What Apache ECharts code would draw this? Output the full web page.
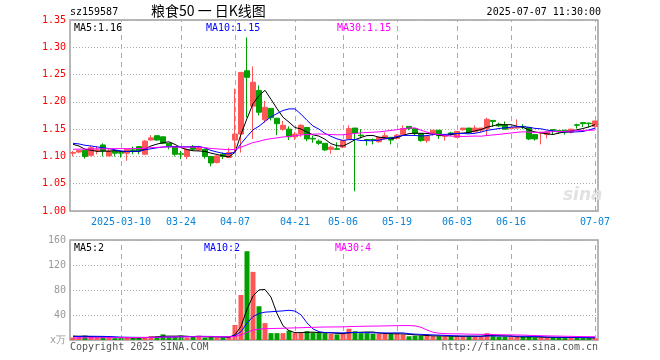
<!DOCTYPE html>
<html><head><meta charset="utf-8">
<script src="https://cdn.jsdelivr.net/npm/echarts@6/dist/echarts.min.js"></script>
<style>html,body{margin:0;padding:0;background:#fff}#c{width:660px;height:360px}</style>
</head><body><div id="c"></div>
<script>
const dates = ['2025-02-26','2025-02-27','2025-02-28','2025-03-03','2025-03-04','2025-03-05','2025-03-06','2025-03-07',
'2025-03-10','2025-03-11','2025-03-12','2025-03-13','2025-03-14','2025-03-17','2025-03-18','2025-03-19','2025-03-20','2025-03-21',
'2025-03-24','2025-03-25','2025-03-26','2025-03-27','2025-03-28','2025-03-31','2025-04-01','2025-04-02','2025-04-03',
'2025-04-07','2025-04-08','2025-04-09','2025-04-10','2025-04-11','2025-04-14','2025-04-15','2025-04-16','2025-04-17','2025-04-18',
'2025-04-21','2025-04-22','2025-04-23','2025-04-24','2025-04-25','2025-04-28','2025-04-29','2025-04-30',
'2025-05-06','2025-05-07','2025-05-08','2025-05-09','2025-05-12','2025-05-13','2025-05-14','2025-05-15','2025-05-16',
'2025-05-19','2025-05-20','2025-05-21','2025-05-22','2025-05-23','2025-05-26','2025-05-27','2025-05-28','2025-05-29','2025-05-30',
'2025-06-03','2025-06-04','2025-06-05','2025-06-06','2025-06-09','2025-06-10','2025-06-11','2025-06-12','2025-06-13',
'2025-06-16','2025-06-17','2025-06-18','2025-06-19','2025-06-23','2025-06-24','2025-06-25','2025-06-26','2025-06-27',
'2025-06-30','2025-07-01','2025-07-02','2025-07-03','2025-07-04','2025-07-07'];
const opens  = [1.106,1.108,1.111,1.102,1.111,1.121,1.101,1.110,1.107,1.106,1.112,1.118,1.104,1.130,1.138,1.136,1.124,1.118,1.105,1.100,1.118,1.112,1.113,1.100,1.089,1.104,1.098,
1.130,1.141,1.257,1.192,1.221,1.167,1.188,1.170,1.150,1.150,1.136,1.141,1.153,1.133,1.128,1.124,1.113,1.114,
1.117,1.132,1.152,1.139,1.131,1.131,1.127,1.132,1.135,1.133,1.140,1.155,1.151,1.142,1.129,1.141,1.148,1.137,1.143,
1.135,1.149,1.152,1.145,1.148,1.151,1.166,1.159,1.158,1.151,1.152,1.155,1.153,1.140,1.143,1.140,1.149,1.147,1.148,1.144,1.158,1.162,1.161,1.155];
const closes = [1.107,1.111,1.100,1.116,1.112,1.110,1.110,1.106,1.106,1.113,1.111,1.110,1.128,1.134,1.130,1.124,1.118,1.104,1.104,1.113,1.113,1.116,1.100,1.088,1.101,1.100,1.107,
1.141,1.254,1.245,1.236,1.181,1.190,1.171,1.160,1.157,1.136,1.141,1.157,1.132,1.132,1.124,1.112,1.117,1.113,
1.129,1.151,1.143,1.138,1.130,1.130,1.135,1.138,1.130,1.139,1.151,1.151,1.142,1.129,1.137,1.148,1.138,1.138,1.140,
1.146,1.152,1.144,1.152,1.152,1.168,1.164,1.156,1.150,1.153,1.153,1.154,1.132,1.132,1.144,1.145,1.148,1.145,1.144,1.150,1.157,1.160,1.160,1.165];
const highs  = [1.110,1.112,1.112,1.119,1.119,1.124,1.115,1.110,1.110,1.113,1.118,1.118,1.130,1.139,1.138,1.136,1.124,1.119,1.110,1.114,1.121,1.118,1.114,1.100,1.102,1.107,1.116,
1.224,1.254,1.318,1.265,1.230,1.202,1.188,1.170,1.165,1.155,1.145,1.159,1.153,1.138,1.131,1.124,1.120,1.126,
1.129,1.157,1.152,1.150,1.132,1.133,1.135,1.144,1.135,1.141,1.157,1.155,1.151,1.142,1.137,1.148,1.148,1.139,1.145,
1.146,1.152,1.152,1.157,1.152,1.171,1.166,1.162,1.164,1.154,1.168,1.159,1.153,1.140,1.144,1.145,1.149,1.147,1.148,1.150,1.160,1.162,1.162,1.165];
const lows   = [1.100,1.106,1.096,1.100,1.104,1.100,1.100,1.100,1.098,1.092,1.104,1.104,1.103,1.129,1.129,1.123,1.113,1.100,1.095,1.095,1.110,1.110,1.096,1.082,1.087,1.095,1.097,
1.107,1.107,1.171,1.132,1.175,1.162,1.166,1.139,1.147,1.130,1.130,1.136,1.128,1.125,1.121,1.110,1.105,1.112,
1.115,1.132,1.036,1.133,1.120,1.122,1.125,1.132,1.122,1.131,1.138,1.148,1.138,1.127,1.125,1.138,1.132,1.129,1.138,
1.134,1.147,1.142,1.145,1.144,1.138,1.154,1.154,1.150,1.150,1.151,1.150,1.130,1.129,1.122,1.133,1.141,1.142,1.140,1.142,1.151,1.154,1.153,1.153];
const volumes = [4,5,7,5,4,5,4,3,3,4,3,4,5,6,6,9,5,5,7,4,5,7,4,5,4,4,5,
24,72,142,109,54,27,11,11,11,15,11,11,14,12,11,11,10,9,
10,18,14,11,11,10,10,10,10,10,9,6,7,7,7,6,6,6,6,
6,6,6,6,6,11,6,5,5,5,5,5,5,4,4,4,4,4,4,4,4,3,3,3];
// closes/volumes before the first visible day, used only for the moving averages
const prevCloses = [1.100,1.102,1.105,1.104,1.108,1.106,1.103,1.107,1.110,1.108,1.105,1.109,1.112,1.110,1.108,1.111,1.113,1.110,1.109,1.111,
1.122,1.125,1.128,1.130,1.124,1.127,1.129,1.125,1.123];
const prevVolumes = [2,2,2,2,2,2,2,2,2,2,2,2,2,2,2,2,2,2,2,2,3,4,5,5,6,7,7,8,6];
const tickDates  = ['2025-03-10','2025-03-24','2025-04-07','2025-04-21','2025-05-06','2025-05-19','2025-06-03','2025-06-16','2025-07-07'];
const tickLabels = ['2025-03-10','03-24','04-07','04-21','05-06','05-19','06-03','06-16','07-07'];
const priceLegend = ['MA5:1.16','MA10:1.15','MA30:1.15'];
const volLegend = ['MA5:2','MA10:2','MA30:4'];

const RED = '#ff5656', GREEN = '#00a000';
const MONO = '"DejaVu Sans Mono", monospace';
function ma(arr, prev, n) {
  const all = prev.concat(arr);
  return arr.map((_, i) => {
    const end = prev.length + i; let s = 0;
    for (let k = end - n + 1; k <= end; k++) s += all[k];
    return +(s / n).toFixed(4);
  });
}
const candle = dates.map((d, i) => [opens[i], closes[i], lows[i], highs[i]]);
const volBars = volumes.map((v, i) => ({ value: v, itemStyle: { color: closes[i] >= opens[i] ? RED : GREEN } }));
const vlines = tickDates.map(d => ({ xAxis: d }));
const mk = { silent: true, symbol: 'none', label: { show: false }, lineStyle: { color: '#aaa', type: [5, 4], width: 1 }, data: vlines, animation: false };
const lineS = (name, data, color, xi) => ({ name, type: 'line', data, xAxisIndex: xi, yAxisIndex: xi, showSymbol: false, symbol: 'none',
  lineStyle: { color, width: 1 }, itemStyle: { color }, silent: true, z: 5 });

const chart = echarts.init(document.getElementById('c'), null, { renderer: 'canvas' });
const txt = (x, y, t, color, extra) => Object.assign({ type: 'text', left: x, top: y, style: { text: t, fill: color, font: '10px ' + MONO } }, extra || {});
chart.setOption({
  animation: false,
  backgroundColor: '#fff',
  grid: [
    { left: 70, top: 20, width: 528, height: 191, show: true, borderColor: '#a0a0a0', borderWidth: 1.5, backgroundColor: 'transparent' },
    { left: 70, top: 240, width: 528, height: 100, show: true, borderColor: '#a0a0a0', borderWidth: 1.5, backgroundColor: 'transparent' }
  ],
  xAxis: [
    { type: 'category', data: dates, gridIndex: 0, boundaryGap: true, axisLine: { show: false }, axisTick: { show: false },
      splitLine: { show: false },
      axisLabel: { interval: (i, v) => tickDates.includes(v), formatter: v => tickLabels[tickDates.indexOf(v)] || '',
        color: '#0a84d6', fontFamily: MONO, fontSize: 10, margin: 6 } },
    { type: 'category', data: dates, gridIndex: 1, boundaryGap: true, axisLine: { show: false }, axisTick: { show: false },
      axisLabel: { show: false }, splitLine: { show: false } }
  ],
  yAxis: [
    { type: 'value', gridIndex: 0, min: 1.0, max: 1.35, interval: 0.05, axisLine: { show: false }, axisTick: { show: false },
      axisLabel: { color: '#ff0000', fontFamily: MONO, fontSize: 10, margin: 4, formatter: v => v.toFixed(2) },
      splitLine: { show: true, lineStyle: { color: '#aaa', type: [1, 2], width: 1 } } },
    { type: 'value', gridIndex: 1, min: 0, max: 160, interval: 40, axisLine: { show: false }, axisTick: { show: false },
      axisLabel: { color: '#999', fontFamily: MONO, fontSize: 10, margin: 4, formatter: v => v === 0 ? 'x万' : String(v) },
      splitLine: { show: true, lineStyle: { color: '#aaa', type: [1, 2], width: 1 } } }
  ],
  series: [
    { type: 'line', data: [], xAxisIndex: 0, yAxisIndex: 0, markLine: mk, z: 1 },
    { type: 'line', data: [], xAxisIndex: 1, yAxisIndex: 1, markLine: mk, z: 1 },
    { type: 'candlestick', data: candle, xAxisIndex: 0, yAxisIndex: 0, barWidth: 5,
      itemStyle: { color: RED, color0: GREEN, borderColor: RED, borderColor0: GREEN, borderWidth: 1 }, z: 3 },
    lineS('MA5', ma(closes, prevCloses, 5), '#000', 0),
    lineS('MA10', ma(closes, prevCloses, 10), '#0000ff', 0),
    lineS('MA30', ma(closes, prevCloses, 30), '#ff00ff', 0),
    { type: 'bar', data: volBars, xAxisIndex: 1, yAxisIndex: 1, barWidth: 5, z: 3 },
    lineS('VMA5', ma(volumes, prevVolumes, 5), '#000', 1),
    lineS('VMA10', ma(volumes, prevVolumes, 10), '#0000ff', 1),
    lineS('VMA30', ma(volumes, prevVolumes, 30), '#ff00ff', 1)
  ],
  graphic: [
    txt(70, 7, 'sz159587', '#000'),
    { type: 'text', left: 151, top: 4, style: { text: '粮食50 一 日K线图', fill: '#000', font: '14px "Noto Sans CJK SC"' } },
    { type: 'text', right: 59, top: 7, style: { text: '2025-07-07 11:30:00', fill: '#000', font: '10px ' + MONO } },
    txt(74, 23, priceLegend[0], '#000'),
    txt(206, 23, priceLegend[1], '#0000ff'),
    txt(337, 23, priceLegend[2], '#ff00ff'),
    txt(74, 243, volLegend[0], '#000'),
    txt(204, 243, volLegend[1], '#0000ff'),
    txt(335, 243, volLegend[2], '#ff00ff'),
    txt(70, 342, 'Copyright 2025 SINA.COM', '#555'),
    { type: 'text', right: 62, top: 342, style: { text: 'http://finance.sina.com.cn', fill: '#555', font: '10px ' + MONO } },
    { type: 'text', left: 563, top: 187, style: { text: 'sina', fill: '#e2e2e2', font: 'italic bold 17px "DejaVu Sans"' } }
  ]
});
</script></body></html>
